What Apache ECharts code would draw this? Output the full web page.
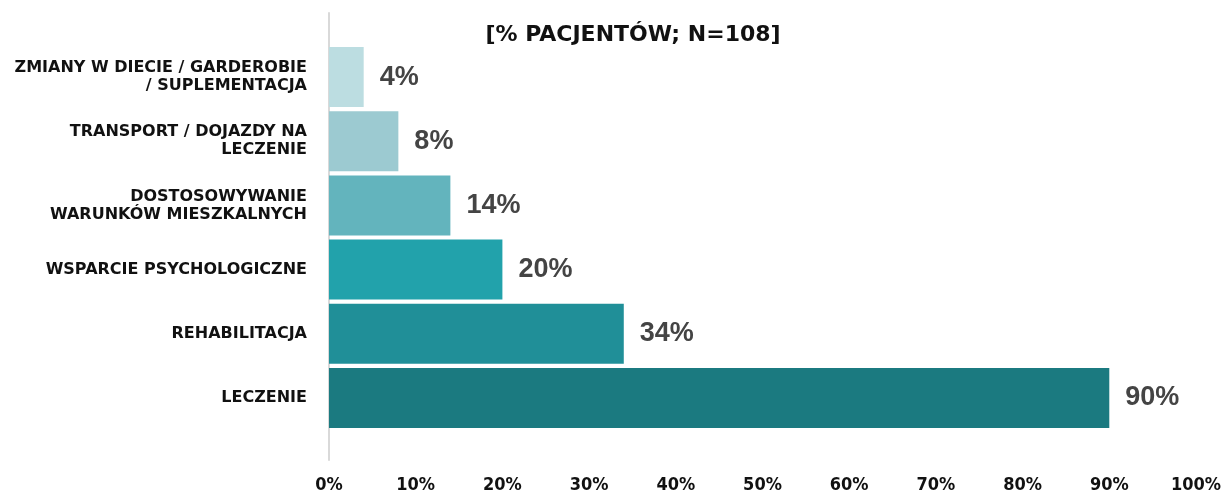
<!DOCTYPE html>
<html><head><meta charset="utf-8">
<script src="https://cdn.jsdelivr.net/npm/echarts@6/dist/echarts.min.js"></script>
<style>html,body{margin:0;padding:0;background:#fff}#c{width:1231px;height:495px}</style>
</head><body><div id="c"></div>
<script>
const categories = [
  "ZMIANY W DIECIE / GARDEROBIE\n/ SUPLEMENTACJA",
  "TRANSPORT / DOJAZDY NA\nLECZENIE",
  "DOSTOSOWYWANIE\nWARUNKÓW MIESZKALNYCH",
  "WSPARCIE PSYCHOLOGICZNE",
  "REHABILITACJA",
  "LECZENIE"
];
const values = [4, 8, 14, 20, 34, 90];
const barColors = ["#bcdde1", "#9ccad1", "#63b4bd", "#22a2ab", "#208f98", "#1b7a80"];
const xTicks = [0, 10, 20, 30, 40, 50, 60, 70, 80, 90, 100];
const title = "[% PACJENTÓW; N=108]";

const chart = echarts.init(document.getElementById('c'));
chart.setOption({
  animation: false,
  title: {
    text: title, left: 628, top: 19, textAlign: 'center',
    textStyle: {fontFamily: 'DejaVu Sans', fontWeight: 'bold', fontSize: 22, color: '#111'}
  },
  grid: [
    {left: 329, right: 35, top: 45, height: 385},
    {left: 329, right: 35, top: 13, bottom: 35}
  ],
  xAxis: [
    {type: 'value', gridIndex: 0, min: xTicks[0], max: xTicks[xTicks.length-1], interval: 10,
     splitLine: {show: false}, axisLine: {show: false}, axisTick: {show: false},
     axisLabel: {show: false}},
    {type: 'value', gridIndex: 1, min: xTicks[0], max: xTicks[xTicks.length-1], interval: 10,
     position: 'bottom', offset: 0,
     splitLine: {show: false}, axisLine: {show: false}, axisTick: {show: false},
     axisLabel: {formatter: v => v + '%', margin: 16, fontFamily: 'DejaVu Sans Condensed, Liberation Sans, sans-serif', fontWeight: 'bold', fontSize: 18, color: '#111'}}
  ],
  yAxis: [
    {type: 'category', gridIndex: 0, data: categories, inverse: true,
     axisLine: {show: false}, axisTick: {show: false},
     axisLabel: {margin: 22, fontFamily: 'DejaVu Sans', fontWeight: 'bold', fontSize: 16, color: '#111', lineHeight: 18, align: 'right'}},
    {type: 'value', gridIndex: 1, axisLabel: {show: false}, splitLine: {show: false}, axisTick: {show: false},
     axisLine: {show: true, lineStyle: {color: '#d9d9d9', width: 2}}}
  ],
  series: [{
    type: 'bar', xAxisIndex: 0, yAxisIndex: 0,
    data: values.map((v, i) => ({value: v, itemStyle: {color: barColors[i]}})),
    barWidth: 60,
    label: {show: true, position: 'right', distance: 16, formatter: p => p.value + '%',
      fontFamily: 'Liberation Sans, sans-serif', fontWeight: 'bold', fontSize: 27, color: '#444'}
  }]
});
</script></body></html>
